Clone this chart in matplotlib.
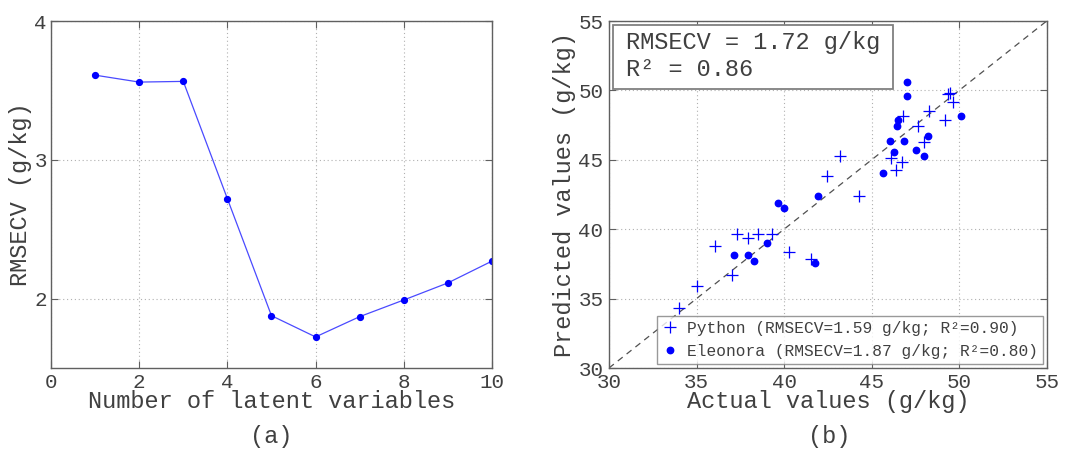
import matplotlib
matplotlib.use("Agg")
import matplotlib.pyplot as plt
from matplotlib.patches import Rectangle

# ---- data ----
n_lv = [1, 2, 3, 4, 5, 6, 7, 8, 9, 10]
rmsecv = [3.61, 3.56, 3.565, 2.72, 1.877, 1.724, 1.87, 1.99, 2.113, 2.27]

python_actual = [34.01, 35.04, 36.06, 37.05, 37.33, 37.92, 38.49, 39.30, 40.30, 41.56,
                 42.43, 43.17, 44.27, 46.13, 46.41, 46.73, 46.82, 47.66, 47.99, 48.27,
                 49.22, 49.37, 49.50, 49.65]
python_pred = [34.33, 35.89, 38.76, 36.72, 39.67, 39.35, 39.62, 39.69, 38.33, 37.85,
               43.80, 45.29, 42.37, 45.14, 44.30, 44.81, 48.13, 47.46, 46.31, 48.49,
               47.85, 49.74, 49.80, 49.16]

eleonora_actual = [37.12, 37.92, 38.26, 39.00, 39.66, 40.02, 41.79, 41.94, 45.67, 46.03,
                   46.30, 46.47, 46.49, 46.83, 47.00, 47.02, 47.55, 48.00, 48.23, 50.13]
eleonora_pred = [38.16, 38.16, 37.70, 38.99, 41.91, 41.53, 37.58, 42.39, 44.02, 46.39,
                 45.53, 47.44, 47.89, 46.36, 50.60, 49.62, 45.69, 45.31, 46.72, 48.13]

xticks_a = [0, 2, 4, 6, 8, 10]
yticks_a = [2, 3, 4]
ticks_b = [30, 35, 40, 45, 50, 55]

label_python = "Python (RMSECV=1.59 g/kg; R²=0.90)"
label_eleonora = "Eleonora (RMSECV=1.87 g/kg; R²=0.80)"
annot_lines = ["RMSECV = 1.72 g/kg", "R² = 0.86"]

# ---- style ----
FONT = ["Liberation Mono", "DejaVu Sans Mono"]
plt.rcParams["font.family"] = FONT
TXT = "#404040"
SPINE = "#606060"
BLUE = "#0000ff"

fig = plt.figure(figsize=(10.65, 4.5), dpi=100)
ax1 = fig.add_axes([0.0479, 0.1822, 0.414, 0.7711])
ax2 = fig.add_axes([0.5718, 0.1822, 0.411, 0.7711])

def style(ax):
    for s in ax.spines.values():
        s.set_color(SPINE)
        s.set_linewidth(1.0)
    ax.tick_params(direction="in", length=5, color=SPINE, labelcolor=TXT,
                   labelsize=15, top=True, right=True, width=0.8)
    ax.grid(True, linestyle=(0, (1, 2.5)), color="#b0b0b0", linewidth=0.8)
    ax.set_axisbelow(True)

# ---- panel (a) ----
ax1.plot(n_lv, rmsecv, color="#4a4aff", lw=0.9, marker="o", ms=4.2,
         mfc=BLUE, mec=BLUE)
ax1.set_xlim(0, 10)
ax1.set_ylim(1.5, 4)
ax1.set_xticks(xticks_a)
ax1.set_yticks(yticks_a)
style(ax1)
ax1.tick_params(axis="x", pad=3.5)
ax1.tick_params(axis="y", pad=3)
ax1.set_xlabel("Number of latent variables", fontsize=17, color=TXT, labelpad=-1)
ax1.set_ylabel("RMSECV (g/kg)", fontsize=17, color=TXT, labelpad=2)

# ---- panel (b) ----
ax2.plot([30, 55], [30, 55], color="#505050", lw=0.9, ls=(0, (5, 4)))
ax2.plot(python_actual, python_pred, ls="none", marker="+", ms=8, mew=0.9,
         color=BLUE, label=label_python)
ax2.plot(eleonora_actual, eleonora_pred, ls="none", marker="o", ms=4.6,
         color=BLUE, mec=BLUE, label=label_eleonora)
ax2.set_xlim(30, 55)
ax2.set_ylim(30, 55)
ax2.set_xticks(ticks_b)
ax2.set_yticks(ticks_b)
style(ax2)
ax2.tick_params(axis="x", pad=3.5)
ax2.tick_params(axis="y", pad=4)
ax2.set_xlabel("Actual values (g/kg)", fontsize=17, color=TXT, labelpad=-1)
ax2.set_ylabel("Predicted values (g/kg)", fontsize=17, color=TXT, labelpad=2)

leg = ax2.legend(loc="lower right", fontsize=11.7, frameon=True, fancybox=False,
                 borderaxespad=0.25, handletextpad=0.5, handlelength=1.0,
                 borderpad=0.3, labelspacing=0.5)
leg.get_frame().set_edgecolor("#808080")
leg.get_frame().set_linewidth(1.0)
for t in leg.get_texts():
    t.set_color(TXT)

# annotation box
ax2.add_patch(Rectangle((0.009, 0.804), 0.639, 0.184, transform=ax2.transAxes,
                        facecolor="white", edgecolor="#808080", lw=1.3, zorder=5))
ax2.text(0.039, 0.937, annot_lines[0], transform=ax2.transAxes, fontsize=17,
         color=TXT, va="center", ha="left", zorder=6)
ax2.text(0.039, 0.859, annot_lines[1], transform=ax2.transAxes, fontsize=17,
         color=TXT, va="center", ha="left", zorder=6)

# ---- panel labels ----
fig.text(0.2545, 0.03, "(a)", fontsize=17, color=TXT, ha="center", va="center")
fig.text(0.779, 0.03, "(b)", fontsize=17, color=TXT, ha="center", va="center")

fig.savefig("out.png", dpi=100)
